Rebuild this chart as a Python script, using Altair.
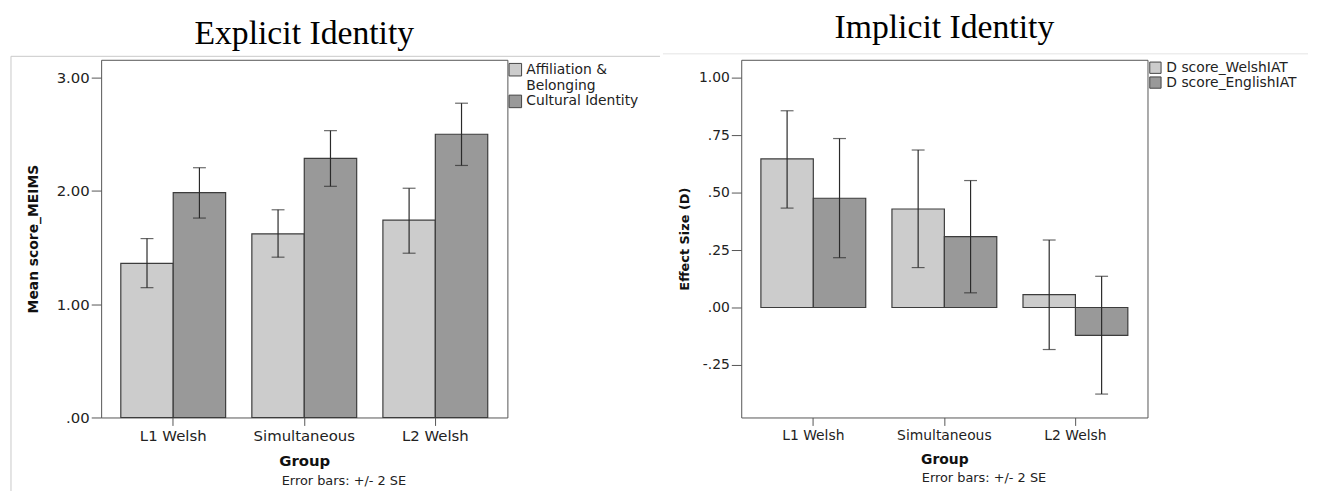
import altair as alt
import pandas as pd

groups = ["L1 Welsh", "Simultaneous", "L2 Welsh"]

# Explicit identity (Mean score_MEIMS), error bars +/- 2 SE
exp_series = ["Affiliation & Belonging", "Cultural Identity"]
exp_aff_mean = [1.36, 1.62, 1.74]
exp_aff_lo = [1.145, 1.414, 1.449]
exp_aff_hi = [1.578, 1.832, 2.022]
exp_cul_mean = [1.984, 2.285, 2.498]
exp_cul_lo = [1.759, 2.039, 2.223]
exp_cul_hi = [2.203, 2.530, 2.772]

# Implicit identity (Effect Size D), error bars +/- 2 SE
imp_series = ["D score_WelshIAT", "D score_EnglishIAT"]
imp_wel_mean = [0.647, 0.429, 0.056]
imp_wel_lo = [0.433, 0.174, -0.183]
imp_wel_hi = [0.857, 0.686, 0.294]
imp_eng_mean = [0.476, 0.309, -0.121]
imp_eng_lo = [0.217, 0.064, -0.377]
imp_eng_hi = [0.736, 0.553, 0.136]

note = ["Error bars: +/- 2 SE"]


def make_df(series, means, los, his):
    rows = []
    for k, (s, m, lo, hi) in enumerate(zip(series, means, los, his)):
        for g, mv, lv, hv in zip(groups, m, lo, hi):
            rows.append({"group": g, "series": s, "k": k, "mean": mv, "lo": lv, "hi": hv})
    return pd.DataFrame(rows)


exp_df = make_df(exp_series, [exp_aff_mean, exp_cul_mean],
                 [exp_aff_lo, exp_cul_lo], [exp_aff_hi, exp_cul_hi])
imp_df = make_df(imp_series, [imp_wel_mean, imp_eng_mean],
                 [imp_wel_lo, imp_eng_lo], [imp_wel_hi, imp_eng_hi])

FONT = "DejaVu Sans"
FRAME = "#555555"
LINE = "#2a2a2a"
one = pd.DataFrame({"a": [0]})


def panel(df, series, ydom, yticks, ytitle, ylabelexpr, title, leg_expr,
          fs, leg_fs, leg_y, sym, row_pad, title_fs, title_off, ytitle_pad,
          note_y, deco):
    yscale = alt.Scale(domain=ydom, nice=False, zero=False)
    yaxis = alt.Axis(title=ytitle, values=yticks, labelExpr=ylabelexpr,
                     domain=False, grid=False, tickColor=FRAME, tickSize=10,
                     labelPadding=2, labelFont=FONT, labelFontSize=fs,
                     labelColor="#222", titleFont=FONT,
                     titleFontSize=fs - 1, titleFontWeight="bold",
                     titleColor="#111", titlePadding=ytitle_pad)
    xenc = alt.X("group:N", sort=groups,
                 scale=alt.Scale(domain=groups, paddingInner=0.2, paddingOuter=0.15),
                 axis=alt.Axis(title="Group", labelAngle=0, domain=False,
                               tickColor=FRAME, tickSize=8, labelPadding=3,
                               labelFont=FONT, labelFontSize=fs, labelColor="#222",
                               titleFont=FONT, titleFontSize=fs, titleFontWeight="bold",
                               titleColor="#111", titlePadding=10))
    xoff = alt.XOffset("k:O", scale=alt.Scale(paddingInner=0, paddingOuter=0))
    base = alt.Chart(df).encode(x=xenc, xOffset=xoff)
    bars = base.mark_bar(stroke="#3c3c3c", strokeWidth=1.2).encode(
        y=alt.Y("mean:Q", scale=yscale, axis=yaxis),
        color=alt.Color("series:N", sort=series,
                        scale=alt.Scale(domain=series, range=["#cccccc", "#999999"]),
                        legend=alt.Legend(title=None, orient="none", legendX=411,
                                          legendY=leg_y, symbolType="square",
                                          symbolSize=sym, symbolStrokeColor="#444",
                                          symbolStrokeWidth=1, symbolOpacity=1,
                                          labelFont=FONT, labelFontSize=leg_fs,
                                          labelColor="#222", labelOffset=4,
                                          labelExpr=leg_expr, rowPadding=row_pad,
                                          padding=0, labelLimit=300)),
    )
    rule = base.mark_rule(color=LINE, strokeWidth=1.2).encode(
        y=alt.Y("lo:Q", scale=yscale, axis=yaxis), y2="hi:Q")
    cap_lo = base.mark_tick(color=LINE, size=13, thickness=1.2).encode(
        y=alt.Y("lo:Q", scale=yscale, axis=yaxis))
    cap_hi = base.mark_tick(color=LINE, size=13, thickness=1.2).encode(
        y=alt.Y("hi:Q", scale=yscale, axis=yaxis))
    txt = alt.Chart(pd.DataFrame({"note": note})).mark_text(
        font=FONT, fontSize=13, color="#222", align="center", baseline="top"
    ).encode(text="note:N", x=alt.value(245), y=alt.value(note_y))
    layers = [bars, rule, cap_lo, cap_hi, txt]
    # light frame lines of the original output panes
    for (x1, x2, y1, y2, col) in deco:
        enc = dict(x=alt.value(x1), y=alt.value(y1))
        if x2 is not None:
            enc["x2"] = alt.value(x2)
        if y2 is not None:
            enc["y2"] = alt.value(y2)
        layers.append(alt.Chart(one).mark_rule(color=col, strokeWidth=1).encode(**enc))
    return alt.layer(*layers).properties(
        width=410, height=361,
        title=alt.TitleParams(title, font="Liberation Serif", fontSize=title_fs,
                              fontWeight="normal", color="#000", anchor="middle",
                              offset=title_off),
    )


left = panel(
    exp_df, exp_series, [0, 3.155], [0, 1, 2, 3], "Mean score_MEIMS",
    "datum.value == 0 ? '.00' : format(datum.value, '.2f')",
    "Explicit Identity",
    "datum.label == 'Affiliation & Belonging' ? ['Affiliation &', 'Belonging'] : datum.label",
    15, 14, 3, 160, 0, 34, 5, 16, 419,
    [(-91, 564, -3.5, None, "#c8c8c8"), (-91, None, -3.5, 440, "#c8c8c8")],
)

right = panel(
    imp_df, imp_series, [-0.479, 1.079], [-0.25, 0, 0.25, 0.5, 0.75, 1.0],
    "Effect Size (D)",
    "abs(datum.value) < 1 ? (datum.value < 0 ? '-' : '') + substring(format(abs(datum.value), '.2f'), 1) : format(datum.value, '.2f')",
    "Implicit Identity",
    "datum.label",
    14, 14, 1, 130, -2, 34, 8, 7, 416,
    [(-79, 572, -6, None, "#e4e4e4")],
)

chart = alt.hconcat(left, right, spacing=1).resolve_scale(
    color="independent", x="independent", y="independent"
).properties(
    padding={"left": 2, "top": 1, "right": 0, "bottom": 0},
    background="white",
).configure_view(
    stroke=FRAME, strokeWidth=1
)

chart.save("out.html", embed_options={"renderer": "svg", "actions": False})
